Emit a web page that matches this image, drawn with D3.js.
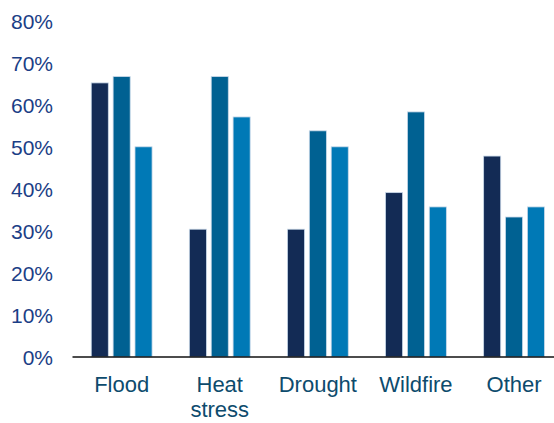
<!DOCTYPE html>
<html>
<head>
<meta charset="utf-8">
<script src="https://cdn.jsdelivr.net/npm/d3@7"></script>
<style>
  html, body { margin: 0; padding: 0; background: #ffffff; }
  svg { display: block; }
</style>
</head>
<body>
<svg id="chart" width="554" height="423"></svg>
<script>
// Hazard categories (multi-line labels split on "\n")
const categories = ["Flood", "Heat\nstress", "Drought", "Wildfire", "Other"];
// Three series per category, shares as fractions
const seriesA = [0.652, 0.304, 0.304, 0.391, 0.478];
const seriesB = [0.667, 0.667, 0.538, 0.583, 0.333];
const seriesC = [0.500, 0.571, 0.500, 0.357, 0.357];
const seriesColors = ["#132b55", "#006192", "#0079b6"];
const yTicks = [0, 0.1, 0.2, 0.3, 0.4, 0.5, 0.6, 0.7, 0.8];

const series = [seriesA, seriesB, seriesC];
const rows = categories.map((c, i) => ({ cat: c, vals: series.map(s => s[i]) }));

const svg = d3.select("#chart");
const font = "'Liberation Sans', Arial, Helvetica, sans-serif";

const x0 = d3.scaleBand()
  .domain(categories)
  .range([72.6, 563.1])
  .paddingInner(0.38)
  .paddingOuter(0.19);

const x1 = d3.scaleBand()
  .domain(d3.range(series.length))
  .range([0, x0.bandwidth()])
  .paddingInner(0.22);

const y = d3.scaleLinear().domain([0, 0.8]).range([357, 20.7]);

// bars
const groups = svg.append("g").selectAll("g")
  .data(rows)
  .join("g")
  .attr("transform", d => `translate(${x0(d.cat)},0)`);

groups.selectAll("rect")
  .data(d => d.vals.map((v, k) => ({ v, k })))
  .join("rect")
  .attr("x", d => x1(d.k))
  .attr("width", x1.bandwidth())
  .attr("y", d => y(d.v))
  .attr("height", d => y(0) - y(d.v))
  .attr("fill", d => seriesColors[d.k])
  .attr("stroke", "#c9d9e9")
  .attr("stroke-width", 0.8);

// y axis labels (no axis line or ticks)
const yAxis = d3.axisLeft(y)
  .tickValues(yTicks)
  .tickFormat(d3.format(".0%"))
  .tickSize(0)
  .tickPadding(0);

const gy = svg.append("g")
  .attr("transform", "translate(53,0)")
  .call(yAxis);
gy.select(".domain").remove();
gy.selectAll("text")
  .attr("font-family", font)
  .attr("font-size", 21)
  .attr("fill", "#1b3e86")
  .attr("dy", "0.35em");

// baseline
svg.append("line")
  .attr("x1", 72.5).attr("x2", 554)
  .attr("y1", y(0)).attr("y2", y(0))
  .attr("stroke", "#111111")
  .attr("stroke-width", 1.3);

// category labels
const gx = svg.append("g");
gx.selectAll("text")
  .data(categories)
  .join("text")
  .attr("x", d => x0(d) + x0.bandwidth() / 2)
  .attr("y", 392)
  .attr("text-anchor", "middle")
  .attr("font-family", font)
  .attr("font-size", 22)
  .attr("fill", "#0d4b6d")
  .each(function (d) {
    const t = d3.select(this);
    d.split("\n").forEach((line, i) => {
      t.append("tspan")
        .attr("x", x0(d) + x0.bandwidth() / 2)
        .attr("dy", i === 0 ? 0 : 25)
        .text(line);
    });
  });
</script>
</body>
</html>
